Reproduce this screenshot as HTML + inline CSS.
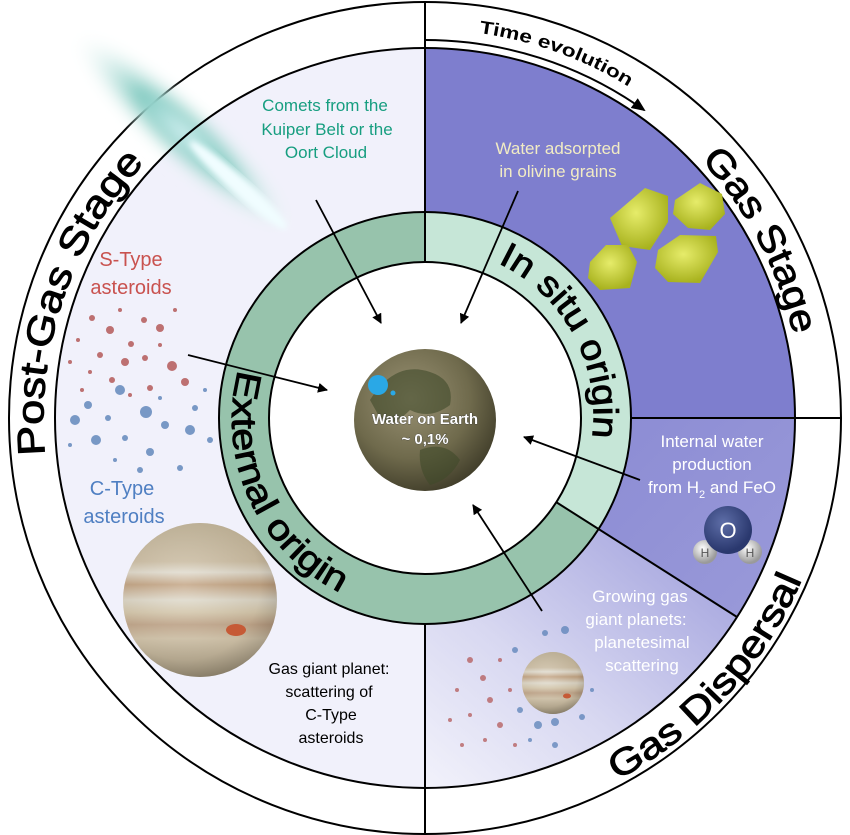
<!DOCTYPE html>
<html><head><meta charset="utf-8"><style>
html,body{margin:0;padding:0;background:#fff}
svg{display:block}
text{font-family:"Liberation Sans",sans-serif}
</style></head><body>
<svg width="850" height="835" viewBox="0 0 850 835" xmlns="http://www.w3.org/2000/svg">
<defs>
<linearGradient id="g2" x1="0" y1="0" x2="1" y2="1"><stop offset="0" stop-color="#8c8cd4"/><stop offset="1" stop-color="#9a9ad9"/></linearGradient>
<linearGradient id="g3" x1="1" y1="0" x2="0" y2="1"><stop offset="0" stop-color="#9c9cdb"/><stop offset="0.6" stop-color="#d8d8f1"/><stop offset="1" stop-color="#f2f2fb"/></linearGradient>
<radialGradient id="earth" cx="0.4" cy="0.35" r="0.7"><stop offset="0" stop-color="#9a9274"/><stop offset="0.6" stop-color="#6f6a4c"/><stop offset="1" stop-color="#3e3b28"/></radialGradient>
<radialGradient id="jup" cx="0.4" cy="0.4" r="0.7"><stop offset="0" stop-color="#e6e0d0"/><stop offset="0.7" stop-color="#b9ac92"/><stop offset="1" stop-color="#5e5646"/></radialGradient>
<linearGradient id="band" x1="0" y1="0" x2="0" y2="1">
<stop offset="0" stop-color="#b8ab90"/><stop offset="0.25" stop-color="#c9b9a0"/><stop offset="0.32" stop-color="#e8e6e0"/><stop offset="0.4" stop-color="#b88e6a"/><stop offset="0.5" stop-color="#e6e4dc"/><stop offset="0.58" stop-color="#d9cbb0"/><stop offset="0.66" stop-color="#b9957a"/><stop offset="0.75" stop-color="#d6c8b0"/><stop offset="1" stop-color="#8b806a"/></linearGradient>
<radialGradient id="comet" cx="0.5" cy="0.5" r="0.5"><stop offset="0" stop-color="#e8fbff"/><stop offset="0.4" stop-color="#7fc9bf"/><stop offset="1" stop-color="#ffffff" stop-opacity="0"/></radialGradient>
<radialGradient id="oli" cx="0.45" cy="0.4" r="0.6"><stop offset="0" stop-color="#e6ec6a"/><stop offset="1" stop-color="#a8b21e"/></radialGradient>
<radialGradient id="ox" cx="0.4" cy="0.35" r="0.6"><stop offset="0" stop-color="#5e6ea8"/><stop offset="1" stop-color="#2a386e"/></radialGradient>
<radialGradient id="hy" cx="0.4" cy="0.35" r="0.6"><stop offset="0" stop-color="#ffffff"/><stop offset="1" stop-color="#9a9a9a"/></radialGradient>
<filter id="blur" x="-50%" y="-50%" width="200%" height="200%"><feGaussianBlur stdDeviation="7"/></filter>
<filter id="blur2"><feGaussianBlur stdDeviation="3"/></filter>
<marker id="ah" markerWidth="10" markerHeight="10" refX="9" refY="5" orient="auto" markerUnits="userSpaceOnUse"><path d="M0,0 L10,5 L0,10 Z" fill="#000"/></marker>
<marker id="ah2" markerWidth="14" markerHeight="12" refX="12" refY="6" orient="auto" markerUnits="userSpaceOnUse"><path d="M0,0 L14,6 L0,12 Z" fill="#000"/></marker>
<path id="pTime" d="M479,33 A389 389 0 0 1 723,168"/>
<path id="pGas" d="M701,160 A378 378 0 0 1 802,398"/>
<path id="pPost" d="M45,455 A378 378 0 0 1 192,120"/>
<path id="pDisp" d="M617,780 A406 406 0 0 0 821,524"/>
<path id="pIn" d="M498,263 A168 168 0 0 1 587,461.5"/>
<path id="pExt" d="M238.5,370 A192 192 0 0 0 408,611"/>
</defs>

<circle cx="425" cy="418" r="416" fill="#fff" stroke="#000" stroke-width="2"/>
<path d="M425,788 A370 370 0 0 1 425,48 L425,212 A206 206 0 0 0 425,624 Z" fill="#f1f1fb"/>
<path d="M425,48 A370 370 0 0 1 795,418 L631,418 A206 206 0 0 0 425,212 Z" fill="#7e7ece"/>
<path d="M795,418 A370 370 0 0 1 737,617 L599,529 A206 206 0 0 0 631,418 Z" fill="url(#g2)"/>
<path d="M737,617 A370 370 0 0 1 425,788 L425,624 A206 206 0 0 0 599,529 Z" fill="url(#g3)"/>

<!-- comet -->
<g transform="rotate(42 180 130)">
<ellipse cx="185" cy="130" rx="150" ry="32" fill="url(#comet)" filter="url(#blur)"/>
<ellipse cx="260" cy="132" rx="65" ry="9" fill="#f0fdff" filter="url(#blur2)"/>
</g>

<circle cx="425" cy="418" r="181" fill="none" stroke="#97c3ac" stroke-width="50"/>
<path d="M425,212 A206 206 0 0 1 599,529 L556,502 A156 156 0 0 0 425,262 Z" fill="#c6e6d7"/>
<circle cx="425" cy="418" r="206" fill="none" stroke="#000" stroke-width="2"/>
<circle cx="425" cy="418" r="156" fill="#fff" stroke="#000" stroke-width="2"/>
<circle cx="425" cy="418" r="370" fill="none" stroke="#000" stroke-width="2"/>
<line x1="425" y1="2" x2="425" y2="262" stroke="#000" stroke-width="2"/>
<line x1="425" y1="624" x2="425" y2="834" stroke="#000" stroke-width="2"/>
<line x1="631" y1="418" x2="841" y2="418" stroke="#000" stroke-width="2"/>
<line x1="556" y1="502" x2="737" y2="617" stroke="#000" stroke-width="2"/>

<path d="M425,40 A378 378 0 0 1 644,110" fill="none" stroke="#000" stroke-width="2" marker-end="url(#ah2)"/>

<g stroke="#000" stroke-width="0.9">
<text font-size="18" font-weight="bold" stroke-width="0"><textPath href="#pTime" textLength="160" lengthAdjust="spacingAndGlyphs">Time evolution</textPath></text>
<text font-size="37"><textPath href="#pGas" textLength="200" lengthAdjust="spacingAndGlyphs">Gas Stage</textPath></text>
<text font-size="38"><textPath href="#pPost" textLength="318" lengthAdjust="spacingAndGlyphs">Post-Gas Stage</textPath></text>
<text font-size="37"><textPath href="#pDisp" textLength="278" lengthAdjust="spacingAndGlyphs">Gas Dispersal</textPath></text>
<text font-size="35"><textPath href="#pIn" textLength="212" lengthAdjust="spacingAndGlyphs">In situ origin</textPath></text>
<text font-size="35"><textPath href="#pExt" textLength="265" lengthAdjust="spacingAndGlyphs">External origin</textPath></text>
</g>

<g fill="url(#oli)">
<path d="M610,218 L645,188 L668,196 L668,222 L650,250 L622,246 Z"/>
<path d="M675,200 L700,183 L722,194 L725,214 L710,230 L688,228 L673,214 Z"/>
<path d="M590,262 L606,245 L628,245 L637,262 L630,288 L600,290 L588,278 Z"/>
<path d="M658,250 L680,235 L716,236 L718,252 L700,283 L668,282 L655,268 Z"/>
</g>

<g fill="#b45a5a" opacity="0.85">
<circle cx="92" cy="318" r="3"/><circle cx="110" cy="330" r="4"/><circle cx="131" cy="344" r="3"/><circle cx="160" cy="328" r="4"/><circle cx="144" cy="320" r="3"/>
<circle cx="78" cy="340" r="2"/><circle cx="100" cy="355" r="3"/><circle cx="125" cy="362" r="4"/><circle cx="145" cy="358" r="3"/><circle cx="172" cy="366" r="5"/>
<circle cx="185" cy="382" r="4"/><circle cx="112" cy="380" r="3"/><circle cx="90" cy="372" r="2"/><circle cx="70" cy="362" r="2"/><circle cx="160" cy="345" r="2"/>
<circle cx="130" cy="395" r="2"/><circle cx="150" cy="388" r="3"/><circle cx="120" cy="310" r="2"/><circle cx="175" cy="310" r="2"/><circle cx="82" cy="390" r="2"/>
</g>
<g fill="#5b82b8" opacity="0.8">
<circle cx="120" cy="390" r="5"/><circle cx="88" cy="405" r="4"/><circle cx="108" cy="418" r="3"/><circle cx="146" cy="412" r="6"/><circle cx="165" cy="425" r="4"/>
<circle cx="190" cy="430" r="5"/><circle cx="75" cy="420" r="5"/><circle cx="96" cy="440" r="5"/><circle cx="125" cy="438" r="3"/><circle cx="150" cy="452" r="4"/>
<circle cx="195" cy="408" r="3"/><circle cx="210" cy="440" r="3"/><circle cx="140" cy="470" r="3"/><circle cx="180" cy="468" r="3"/><circle cx="115" cy="460" r="2"/>
<circle cx="70" cy="445" r="2"/><circle cx="205" cy="390" r="2"/><circle cx="160" cy="398" r="2"/>
</g>
<g fill="#b45a5a" opacity="0.75">
<circle cx="470" cy="660" r="3"/><circle cx="483" cy="678" r="3"/><circle cx="457" cy="690" r="2"/><circle cx="490" cy="700" r="3"/><circle cx="470" cy="715" r="2"/>
<circle cx="500" cy="725" r="3"/><circle cx="485" cy="740" r="2"/><circle cx="510" cy="690" r="2"/><circle cx="450" cy="720" r="2"/><circle cx="515" cy="745" r="2"/>
<circle cx="500" cy="660" r="2"/><circle cx="462" cy="745" r="2"/>
</g>
<g fill="#5b82b8" opacity="0.75">
<circle cx="515" cy="650" r="3"/><circle cx="545" cy="633" r="3"/><circle cx="565" cy="630" r="4"/><circle cx="532" cy="678" r="3"/><circle cx="520" cy="710" r="3"/>
<circle cx="538" cy="725" r="4"/><circle cx="555" cy="722" r="4"/><circle cx="582" cy="717" r="3"/><circle cx="592" cy="690" r="2"/><circle cx="530" cy="740" r="2"/>
<circle cx="555" cy="745" r="3"/>
</g>

<circle cx="200" cy="600" r="77" fill="url(#band)"/>
<circle cx="200" cy="600" r="77" fill="url(#jup)" opacity="0.45"/>
<ellipse cx="236" cy="630" rx="10" ry="6" fill="#c65a36"/>
<circle cx="553" cy="683" r="31" fill="url(#band)"/>
<circle cx="553" cy="683" r="31" fill="url(#jup)" opacity="0.45"/>
<ellipse cx="567" cy="696" rx="4" ry="2.5" fill="#c65a36"/>

<circle cx="425" cy="420" r="71" fill="url(#earth)"/>
<path d="M370,400 Q395,360 430,372 Q455,380 450,405 Q430,420 410,410 Q390,430 380,418 Z" fill="#3f4a2a" opacity="0.6"/>
<path d="M420,450 Q445,440 460,460 Q450,480 430,485 Q418,470 420,450 Z" fill="#3f4a2a" opacity="0.6"/>
<circle cx="378" cy="385" r="10" fill="#2aa8e6"/>
<circle cx="393" cy="393" r="2.5" fill="#2aa8e6"/>

<circle cx="705" cy="552" r="12" fill="url(#hy)"/>
<circle cx="750" cy="552" r="12" fill="url(#hy)"/>
<circle cx="728" cy="530" r="24" fill="url(#ox)"/>
<text x="728" y="538" font-size="22" fill="#fff" text-anchor="middle">O</text>
<text x="705" y="557" font-size="12" fill="#555" text-anchor="middle">H</text>
<text x="750" y="557" font-size="12" fill="#555" text-anchor="middle">H</text>

<g stroke="#000" stroke-width="1.8" fill="none" marker-end="url(#ah)">
<line x1="316" y1="200" x2="381" y2="323"/>
<line x1="518" y1="191" x2="461" y2="323"/>
<line x1="188" y1="355" x2="327" y2="390"/>
<line x1="640" y1="480" x2="524" y2="437"/>
<line x1="542" y1="611" x2="473" y2="505"/>
</g>

<g font-size="17" text-anchor="middle">
<text x="325" y="111" fill="#179e80">Comets from the</text>
<text x="327" y="135" fill="#179e80">Kuiper Belt or the</text>
<text x="326" y="158" fill="#179e80">Oort Cloud</text>
<text x="558" y="154" fill="#f2ecc4">Water adsorpted</text>
<text x="558" y="177" fill="#f2ecc4">in olivine grains</text>
<text x="712" y="447" fill="#fff">Internal water</text>
<text x="712" y="470" fill="#fff">production</text>
<text x="712" y="493" fill="#fff">from H<tspan font-size="11" dy="5">2</tspan><tspan dy="-5"> and FeO</tspan></text>
<text x="640" y="602" fill="#fff">Growing gas</text>
<text x="636" y="625" fill="#fff">giant planets:</text>
<text x="642" y="648" fill="#fff">planetesimal</text>
<text x="642" y="671" fill="#fff">scattering</text>
<text x="329" y="674" fill="#000" font-size="16">Gas giant planet:</text>
<text x="329" y="697" fill="#000" font-size="16">scattering of</text>
<text x="331" y="720" fill="#000" font-size="16">C-Type</text>
<text x="331" y="743" fill="#000" font-size="16">asteroids</text>
<text x="131" y="266" fill="#c9524f" font-size="20">S-Type</text>
<text x="131" y="294" fill="#c9524f" font-size="20">asteroids</text>
<text x="122" y="495" fill="#4f7fc2" font-size="20">C-Type</text>
<text x="124" y="523" fill="#4f7fc2" font-size="20">asteroids</text>
<text x="425" y="424" fill="#fff" font-size="15" font-weight="bold" stroke="#333" stroke-width="0.6" paint-order="stroke">Water on Earth</text>
<text x="425" y="444" fill="#fff" font-size="15" font-weight="bold" stroke="#333" stroke-width="0.6" paint-order="stroke">~ 0,1%</text>
</g>
</svg>
</body></html>
